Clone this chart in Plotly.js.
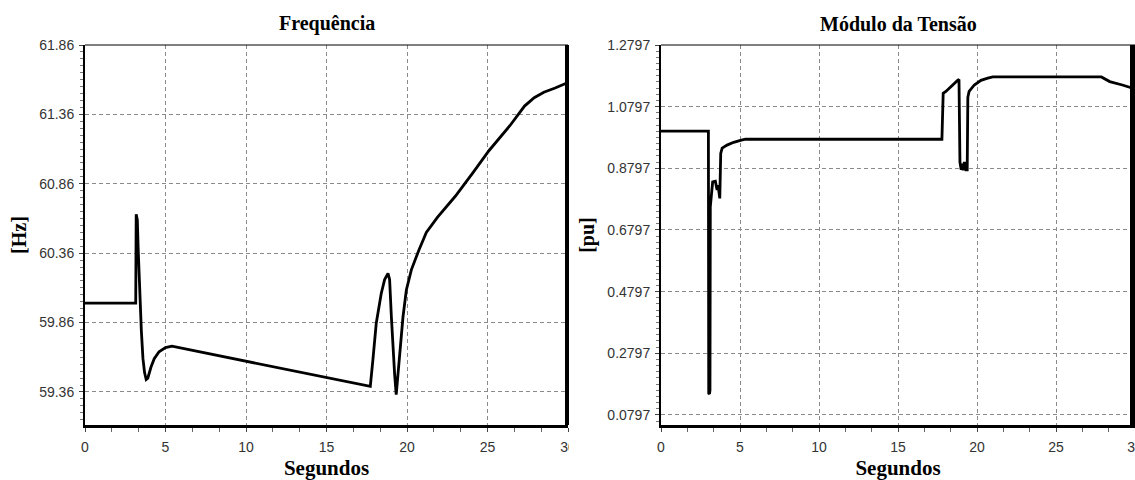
<!DOCTYPE html>
<html>
<head>
<meta charset="utf-8">
<script src="https://cdn.plot.ly/plotly-3.0.1.min.js"></script>
<style>html,body{margin:0;padding:0;background:#fff;}#chart{width:1135px;height:480px;}</style>
</head>
<body>
<div id="chart"></div>
<script>
// ---- Data ----
var chartTitles = ["Frequência", "Módulo da Tensão"];
var xTitle = "Segundos";
var yTitles = ["[Hz]", "[pu]"];

// Frequency [Hz] vs time [s]
var tFreq = [0, 3.15, 3.18, 3.25, 3.3, 3.4, 3.5, 3.6, 3.7, 3.8, 3.9, 4.1, 4.3, 4.6, 5.0, 5.4,
             10.0, 15.0, 17.72, 17.88, 18.09, 18.4, 18.61, 18.82, 18.92, 19.03, 19.13, 19.23, 19.33,
             19.44, 19.55, 19.75, 19.96, 20.27, 20.73, 21.2, 21.9, 23.0, 24.1, 25.1, 26.4, 27.3,
             27.9, 28.5, 29.2, 30.0];
var fHz   = [60.0, 60.0, 60.64, 60.6, 60.4, 60.05, 59.8, 59.6, 59.5, 59.45, 59.46, 59.54, 59.6, 59.65, 59.68, 59.69,
             59.58, 59.46, 59.40, 59.59, 59.855, 60.07, 60.17, 60.215, 60.17, 59.90, 59.66, 59.49, 59.34,
             59.49, 59.66, 59.90, 60.095, 60.24, 60.38, 60.51, 60.62, 60.77, 60.94, 61.10, 61.28, 61.42,
             61.48, 61.52, 61.55, 61.59];

// Voltage magnitude [pu] vs time [s]
var tVolt = [0, 3.0, 3.02, 3.07, 3.1, 3.12, 3.2, 3.27, 3.44, 3.55, 3.61, 3.72, 3.78, 3.87, 4.18, 4.6, 5.03, 5.35,
             17.78, 17.8, 17.86, 18.03, 18.34, 18.77, 18.86, 18.92, 19.0, 19.05, 19.12, 19.2, 19.3, 19.38,
             19.42, 19.5, 19.83, 20.25, 20.68, 21.0, 27.87, 28.4, 29.2, 30.0];
var vPu   = [1.0, 1.0, 0.15, 0.148, 0.16, 0.755, 0.798, 0.836, 0.838, 0.809, 0.825, 0.782, 0.928, 0.945, 0.955, 0.964, 0.970, 0.974,
             0.974, 1.042, 1.123, 1.129, 1.145, 1.165, 1.168, 0.90, 0.875, 0.895, 0.873, 0.90, 0.875, 0.875,
             1.11, 1.129, 1.150, 1.165, 1.172, 1.176, 1.176, 1.161, 1.15, 1.137];

var xTickVals = [0, 5, 10, 15, 20, 25, 30];
var yTickValsF = [59.36, 59.86, 60.36, 60.86, 61.36, 61.86];
var yTickValsV = [0.0797, 0.2797, 0.4797, 0.6797, 0.8797, 1.0797, 1.2797];

// ---- Styling ----
var W = 1135, H = 480;
function px(x){ return x / W; }
function py(y){ return 1 - y / H; }

var serif = "Liberation Serif, Times New Roman, serif";
var sans = "Liberation Sans, Arial, sans-serif";
var gridDash = "4px,3px";

function xAxis(domain, anchor){
  return {
    domain: domain, anchor: anchor, range: [0, 30],
    tickvals: xTickVals, ticktext: xTickVals.map(String),
    ticks: "outside", ticklen: 4, tickcolor: "#444", tickwidth: 1,
    minor: {dtick: 5/3, tick0: 0, ticks: "outside", ticklen: 4, tickcolor: "#666", showgrid: false},
    showline: true, linecolor: "#000", linewidth: 3,
    showgrid: true, gridcolor: "#8a8a8a", gridwidth: 1, griddash: gridDash,
    zeroline: false,
    tickfont: {family: sans, size: 14, color: "#333"},
    ticklabelstandoff: 3,
    ticklabeloverflow: "allow",
    title: {text: "<b>" + xTitle + "</b>", font: {family: serif, size: 21, color: "#000"}, standoff: 7},
    fixedrange: true
  };
}
function yAxis(domain, anchor, range, tickvals, fmt, minorD, title){
  return {
    domain: domain, anchor: anchor, range: range,
    tickvals: tickvals, ticktext: tickvals.map(function(v){ return v.toFixed(fmt); }),
    ticks: "outside", ticklen: 4, tickcolor: "#444", tickwidth: 1,
    minor: {dtick: minorD, tick0: tickvals[0], ticks: "outside", ticklen: 3, tickcolor: "#777", showgrid: false},
    showline: true, linecolor: "#000", linewidth: 2,
    showgrid: true, gridcolor: "#8a8a8a", gridwidth: 1, griddash: gridDash,
    zeroline: false,
    tickfont: {family: sans, size: 14, color: "#333"},
    ticklabelstandoff: 2,
    title: {text: "<b>" + title + "</b>", font: {family: serif, size: 20, color: "#000"}, standoff: 7},
    fixedrange: true
  };
}

var yDom = [py(425), py(45)];
var xDomL = [px(85), px(568)];
var xDomR = [px(661), 1.0];

var traces = [
  {x: tFreq, y: fHz, xaxis: "x", yaxis: "y", type: "scatter", mode: "lines",
   line: {color: "#000", width: 2.8}, hoverinfo: "skip", showlegend: false},
  {x: tVolt, y: vPu, xaxis: "x2", yaxis: "y2", type: "scatter", mode: "lines",
   line: {color: "#000", width: 2.8}, hoverinfo: "skip", showlegend: false}
];

var layout = {
  width: W, height: H,
  margin: {l: 0, r: 0, t: 0, b: 0},
  paper_bgcolor: "#fff", plot_bgcolor: "#fff",
  showlegend: false,
  xaxis: xAxis(xDomL, "y"),
  yaxis: yAxis(yDom, "x", [59.122, 61.86], yTickValsF, 2, 0.05, yTitles[0]),
  xaxis2: xAxis(xDomR, "y2"),
  yaxis2: yAxis(yDom, "x2", [0.047, 1.2797], yTickValsV, 4, 0.02, yTitles[1]),
  annotations: [
    {text: "<b>" + chartTitles[0] + "</b>", xref: "x domain", yref: "paper", x: 0.5, y: py(45),
     yanchor: "bottom", yshift: 8, showarrow: false, font: {family: serif, size: 20, color: "#000"}},
    {text: "<b>" + chartTitles[1] + "</b>", xref: "x2 domain", yref: "paper", x: 0.5, y: py(45),
     yanchor: "bottom", yshift: 8, showarrow: false, font: {family: serif, size: 20, color: "#000"}}
  ],
  shapes: [
    // top border (thin) and right border (thick) of each plot frame
    {type: "line", xref: "x domain", yref: "y domain", x0: 0, x1: 1, y0: 1, y1: 1, line: {color: "#000", width: 1}, layer: "above"},
    {type: "rect", xref: "paper", yref: "y domain", x0: px(565), x1: px(569), y0: 0, y1: 1, fillcolor: "#000", line: {width: 0}, layer: "above"},
    {type: "line", xref: "x2 domain", yref: "y2 domain", x0: 0, x1: 1, y0: 1, y1: 1, line: {color: "#000", width: 1}, layer: "above"},
    {type: "rect", xref: "paper", yref: "y2 domain", x0: px(1130), x1: 1, y0: 0, y1: 1, fillcolor: "#000", line: {width: 0}, layer: "above"},
    // the left panel is cropped just right of its frame in the reference
    {type: "rect", xref: "paper", yref: "paper", x0: px(569), x1: px(592), y0: py(458), y1: py(428), fillcolor: "#fff", line: {width: 0}, layer: "above"}
  ]
};

Plotly.newPlot("chart", traces, layout, {staticPlot: true, displayModeBar: false});
</script>
</body>
</html>
